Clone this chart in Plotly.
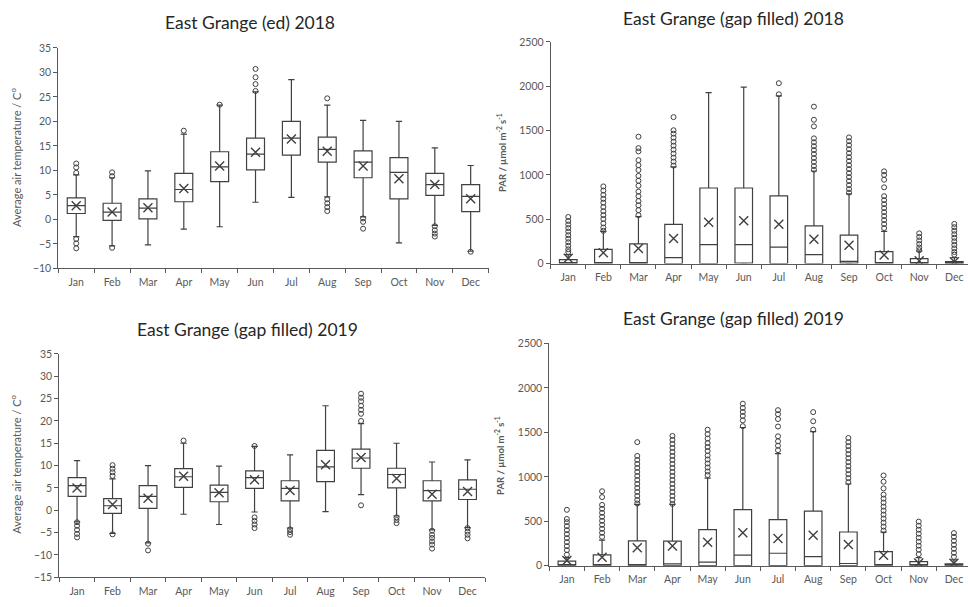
import plotly.graph_objects as go

months = ["Jan", "Feb", "Mar", "Apr", "May", "Jun", "Jul", "Aug", "Sep", "Oct", "Nov", "Dec"]

# ---- Air temperature 2018 ----
t18_q1 = [1.2, -0.2, 0.1, 3.6, 7.7, 10.1, 13.1, 11.7, 8.5, 4.2, 4.9, 1.6]
t18_med = [2.8, 1.5, 2.3, 6.1, 10.7, 13.3, 16.6, 14.3, 11.7, 9.6, 7.1, 4.7]
t18_q3 = [4.4, 3.3, 4.2, 9.4, 13.8, 16.6, 20.0, 16.8, 14.0, 12.6, 9.4, 7.1]
t18_lo = [-3.5, -5.4, -5.2, -2.0, -1.5, 3.5, 4.5, 4.6, 0.5, -4.8, -1.2, -6.5]
t18_hi = [9.1, 8.5, 9.9, 17.4, 23.3, 26.0, 28.5, 23.3, 20.2, 20.0, 14.6, 11.0]
t18_mean = [2.8, 1.5, 2.4, 6.3, 10.9, 13.7, 16.4, 13.9, 10.9, 8.3, 7.1, 4.2]
t18_out = [[11.4, 10.6, 9.5, -4.0, -4.9, -5.9], [9.6, 8.8, -5.8], [], [18.1], [23.4],
           [30.7, 29.0, 27.6, 26.2], [], [24.7, 4.1, 3.3, 2.5, 1.7], [0.2, -0.5, -1.9], [],
           [-1.4, -2.2, -2.9, -3.5], [-6.6]]

# ---- Air temperature 2019 ----
t19_q1 = [3.1, -0.7, 0.4, 5.1, 1.9, 4.9, 2.1, 6.4, 9.4, 5.0, 2.1, 2.4]
t19_med = [5.5, 1.0, 3.1, 7.5, 4.0, 7.3, 4.9, 9.7, 11.7, 8.0, 4.4, 4.7]
t19_q3 = [7.3, 2.6, 5.5, 9.3, 5.6, 8.8, 6.6, 13.4, 13.7, 9.4, 6.6, 6.8]
t19_lo = [-2.6, -5.2, -7.3, -0.9, -3.2, -0.4, -4.0, -0.3, 3.5, -1.3, -4.4, -3.9]
t19_hi = [11.1, 7.0, 10.0, 15.0, 9.9, 14.3, 12.4, 23.4, 19.4, 15.0, 10.8, 11.3]
t19_mean = [5.0, 1.3, 2.7, 7.6, 3.9, 6.8, 4.4, 10.2, 11.8, 7.1, 3.6, 4.2]
t19_out = [[-2.7, -3.5, -4.4, -5.3, -6.1], [10.1, 9.3, 8.5, 7.7, -5.4], [-7.5, -9.0], [15.6], [],
           [14.4, -1.6, -2.4, -3.2, -4.0], [-4.3, -4.9, -5.5], [],
           [26.1, 25.2, 24.4, 23.4, 22.5, 21.6, 20.0, 1.1], [-1.6, -2.2, -2.9],
           [-4.6, -5.5, -6.2, -7.0, -7.7, -8.6], [-4.0, -4.8, -5.5, -6.3]]

# ---- PAR 2018 ----
p18_q1 = [0, 0, 0, 0, 0, 5, 0, 0, 5, 0, 0, 0]
p18_med = [10, 3, 2, 66, 214, 214, 185, 100, 25, 2, 8, 5]
p18_q3 = [44, 159, 221, 442, 852, 852, 763, 425, 321, 133, 55, 22]
p18_lo = [0, 0, 0, 0, 0, 0, 0, 0, 0, 0, 0, 0]
p18_hi = [100, 362, 528, 1090, 1929, 1991, 1891, 1044, 785, 362, 140, 66]
p18_mean = [60, 122, 170, 281, 465, 483, 442, 273, 207, 96, 30, 20]
p18_out = [[525, 480, 440, 400, 360, 320, 280, 240, 200, 160, 130],
           [870, 823, 774, 730, 686, 638, 590, 546, 502, 453, 406, 369],
           [1431, 1302, 1265, 1166, 1110, 1055, 989, 934, 878, 812, 760, 705, 657, 602, 546],
           [1652, 1504, 1465, 1420, 1375, 1330, 1285, 1240, 1195, 1150, 1105],
           [], [], [2035, 1910],
           [1770, 1622, 1548, 1412, 1368, 1324, 1280, 1236, 1190, 1146, 1100, 1058],
           [1423, 1380, 1336, 1290, 1245, 1200, 1155, 1110, 1065, 1020, 975, 930, 885, 840, 800],
           [1040, 1000, 945, 860, 760, 715, 670, 625, 580, 535, 490, 445, 400],
           [340, 300, 260, 220, 180, 150],
           [447, 410, 370, 330, 290, 250, 210, 170, 130, 100]]

# ---- PAR 2019 ----
p19_q1 = [0, 0, 0, 0, 0, 0, 0, 0, 0, 0, 0, 0]
p19_med = [5, 5, 5, 20, 41, 118, 140, 103, 25, 5, 5, 3]
p19_q3 = [52, 121, 279, 276, 405, 632, 518, 614, 379, 158, 47, 22]
p19_lo = [0, 0, 0, 0, 0, 0, 0, 0, 0, 0, 0, 0]
p19_hi = [92, 287, 691, 691, 985, 1555, 1261, 1508, 919, 378, 92, 66]
p19_mean = [58, 96, 202, 221, 265, 372, 305, 342, 239, 118, 30, 28]
p19_out = [[629, 526, 490, 445, 400, 355, 310, 265, 220, 175, 125],
           [838, 772, 684, 640, 595, 550, 505, 460, 415, 370, 325],
           [1390, 1235, 1190, 1145, 1100, 1055, 1010, 965, 920, 875, 830, 785, 740, 700],
           [1460, 1415, 1370, 1325, 1280, 1235, 1190, 1145, 1100, 1055, 1010, 965, 920, 875, 830, 785, 740, 695],
           [1530, 1480, 1430, 1380, 1335, 1290, 1240, 1195, 1150, 1105, 1060, 1020],
           [1823, 1775, 1730, 1685, 1635, 1570],
           [1750, 1705, 1650, 1566, 1456, 1400, 1350, 1300],
           [1728, 1625, 1530],
           [1437, 1390, 1345, 1300, 1255, 1210, 1165, 1120, 1075, 1030, 985, 940],
           [1015, 945, 870, 800, 755, 710, 665, 620, 575, 530, 485, 440, 395],
           [496, 450, 405, 360, 315, 270, 225, 180, 130],
           [367, 325, 280, 235, 190, 145, 100]]

titles = ["East Grange (ed) 2018", "East Grange (gap filled) 2018",
          "East Grange (gap filled) 2019", "East Grange (gap filled) 2019"]
ytitles = ["Average air temperature / C<sup>o</sup>", "<b>PAR / µmol m<sup>-2</sup> s<sup>-1</sup></b>",
           "Average air temperature / C<sup>o</sup>", "<b>PAR / µmol m<sup>-2</sup> s<sup>-1</sup></b>"]

W, H = 968, 607
INK = "#404040"
AX = "#595959"
FONT = "Lato"

panels = [
    dict(q1=t18_q1, med=t18_med, q3=t18_q3, lo=t18_lo, hi=t18_hi, mean=t18_mean, out=t18_out,
         xd=(58.3, 488.6), yd=(42.7, 267.7), xr=[-0.5, 11.5], yr=[-10, 35], dt=5),
    dict(q1=p18_q1, med=p18_med, q3=p18_q3, lo=p18_lo, hi=p18_hi, mean=p18_mean, out=p18_out,
         xd=(550.7, 968), yd=(36.7, 262.7), xr=[-0.5, 11.39], yr=[0, 2500], dt=500),
    dict(q1=t19_q1, med=t19_med, q3=t19_q3, lo=t19_lo, hi=t19_hi, mean=t19_mean, out=t19_out,
         xd=(59.3, 485.3), yd=(355, 582.7), xr=[-0.5, 11.5], yr=[-15, 35], dt=5),
    dict(q1=p19_q1, med=p19_med, q3=p19_q3, lo=p19_lo, hi=p19_hi, mean=p19_mean, out=p19_out,
         xd=(549.3, 968), yd=(344.3, 571), xr=[-0.5, 11.4], yr=[0, 2500], dt=500),
]

title_pos = [(250, 17), (733, 13), (248, 330), (733, 319)]
ytitle_pos = [(16, 155), (501, 150), (16, 468), (500, 458)]
ytitle_size = [11, 9.5, 11, 9.5]

fig = go.Figure()
layout = dict(width=W, height=H, margin=dict(l=0, r=0, t=0, b=0),
              paper_bgcolor="white", plot_bgcolor="white", showlegend=False,
              font=dict(family=FONT, color=AX))
annotations = []

for i, p in enumerate(panels):
    n = "" if i == 0 else str(i + 1)
    xa, ya = "x" + n, "y" + n
    fig.add_trace(go.Box(
        x=months, q1=p["q1"], median=p["med"], q3=p["q3"],
        lowerfence=p["lo"], upperfence=p["hi"],
        width=0.5, whiskerwidth=0.35, fillcolor="white",
        line=dict(color=INK, width=1.2), boxpoints=False,
        xaxis=xa, yaxis=ya, hoverinfo="y"))
    fig.add_trace(go.Scatter(
        x=months, y=p["mean"], mode="markers",
        marker=dict(symbol="x-thin-open", size=9, color=INK, line=dict(color=INK, width=1.4)),
        xaxis=xa, yaxis=ya))
    ox, oy = [], []
    for m, vals in zip(months, p["out"]):
        for v in vals:
            ox.append(m)
            oy.append(v)
    fig.add_trace(go.Scatter(
        x=ox, y=oy, mode="markers",
        marker=dict(symbol="circle-open", size=5, color=INK, line=dict(color=INK, width=1)),
        xaxis=xa, yaxis=ya))

    x0, x1 = p["xd"]
    ytop, ybot = p["yd"]
    layout["xaxis" + n] = dict(
        domain=[x0 / W, min(x1 / W, 1.0)], anchor=ya, type="category",
        categoryorder="array", categoryarray=months, range=p["xr"],
        showline=True, linecolor=AX, linewidth=1, ticks="outside", ticklen=4,
        tickcolor=AX, tickson="boundaries", showgrid=False, zeroline=False,
        tickfont=dict(family=FONT, size=10.5, color=AX), ticklabelstandoff=4)
    layout["yaxis" + n] = dict(
        domain=[(H - ybot) / H, (H - ytop) / H], anchor=xa, range=p["yr"], dtick=p["dt"],
        showline=True, linecolor=AX, linewidth=1, ticks="outside", ticklen=4,
        tickcolor=AX, showgrid=False, zeroline=False,
        tickfont=dict(family=FONT, size=10.5, color=AX))

    tx, ty = title_pos[i]
    annotations.append(dict(text=titles[i], x=tx / W, y=(H - ty) / H,
                            xref="paper", yref="paper",
                            xanchor="center", yanchor="middle", showarrow=False,
                            font=dict(family=FONT, size=17.5, color="#262626")))
    yx, yy = ytitle_pos[i]
    annotations.append(dict(text=ytitles[i], x=yx / W, y=(H - yy) / H,
                            xref="paper", yref="paper",
                            xanchor="center", yanchor="middle", showarrow=False, textangle=-90,
                            font=dict(family=FONT, size=ytitle_size[i], color=AX)))

layout["annotations"] = annotations
fig.update_layout(**layout)
fig.write_html("out.html", config={"displayModeBar": False},
               post_script="document.body.style.margin='0';document.body.style.overflow='hidden';")
